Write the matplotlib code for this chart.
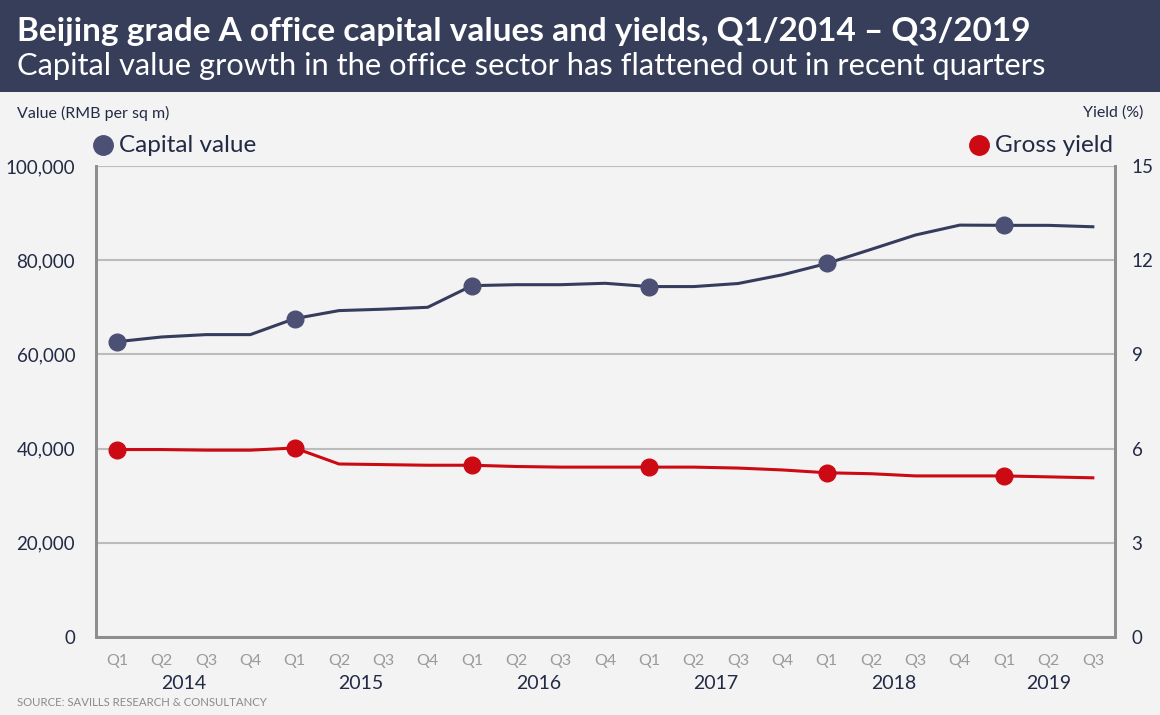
import numpy as np
import matplotlib.pyplot as plt
from matplotlib.patches import Rectangle

plt.rcParams['font.family'] = ['Lato', 'DejaVu Sans']

quarters = ['Q1', 'Q2', 'Q3', 'Q4'] * 5 + ['Q1', 'Q2', 'Q3']
years = ['2014', '2015', '2016', '2017', '2018', '2019']

capital_value = [62700, 63700, 64200, 64200, 67600, 69300, 69600, 70000,
                 74600, 74800, 74800, 75100, 74400, 74400, 75050, 76900,
                 79300, 82300, 85350, 87450, 87400, 87400, 87100]
gross_yield = [5.97, 5.97, 5.95, 5.95, 6.02, 5.51, 5.49, 5.47,
               5.47, 5.43, 5.41, 5.41, 5.41, 5.41, 5.38, 5.32,
               5.23, 5.20, 5.13, 5.13, 5.13, 5.10, 5.07]

navy = '#363c5c'
navy_dot = '#4c5074'
red = '#cc0a14'
text_col = '#232a45'
grey_tick = '#9a9a9a'
bg = '#f3f3f3'

fig = plt.figure(figsize=(11.6, 7.15), dpi=100, facecolor=bg)

# header band
fig.patches.append(Rectangle((0, 1 - 92/715), 1, 92/715, transform=fig.transFigure,
                             facecolor='#363e5a', edgecolor='none', zorder=0))
fig.text(17/1160, 1 - 32/715, 'Beijing grade A office capital values and yields, Q1/2014 \u2013 Q3/2019',
         color='white', fontsize=24, fontweight='bold', va='center', ha='left')
fig.text(17/1160, 1 - 66/715, 'Capital value growth in the office sector has flattened out in recent quarters',
         color='white', fontsize=22.2, fontweight='normal', va='center', ha='left')

ax = fig.add_axes([96/1160, 78/715, (1115-96)/1160, (637-166)/715])
ax.set_facecolor(bg)
x = np.arange(len(quarters))

ax.plot(x, capital_value, color=navy, lw=2.2, marker='o', markevery=4,
        ms=12, mfc=navy_dot, mec=navy_dot, zorder=3)
ax.set_ylim(0, 100000)
ax.set_yticks(np.arange(0, 100001, 20000))
ax.set_yticklabels([f'{v:,}' for v in range(0, 100001, 20000)])
ax.set_xlim(-0.48, len(quarters) - 0.5)
ax.grid(axis='y', color='#bcbcbc', lw=1.5, zorder=0)
ax.set_axisbelow(True)

ax2 = ax.twinx()
ax2.plot(x, gross_yield, color=red, lw=2.2, marker='o', markevery=4,
         ms=12, mfc=red, mec=red, zorder=3)
ax2.set_ylim(0, 15)
ax2.set_yticks([0, 3, 6, 9, 12, 15])

for a in (ax, ax2):
    a.spines['top'].set_visible(False)
    for s in ('left', 'right', 'bottom'):
        a.spines[s].set_color('#8e8e8e')
        a.spines[s].set_linewidth(2)
    a.tick_params(axis='y', length=0, labelsize=13.5, labelcolor=text_col)
ax.tick_params(axis='y', pad=15)
ax2.tick_params(axis='y', pad=12)

ax.set_xticks(x)
ax.set_xticklabels(quarters, color=grey_tick, fontsize=11.5)
ax.tick_params(axis='x', length=0, pad=12)

# year labels
year_pos = [1.5, 5.5, 9.5, 13.5, 17.5, 21]
for yr, px in zip(years, year_pos):
    ax.text(px, -0.098, yr, transform=ax.get_xaxis_transform(), ha='center', va='center',
            fontsize=14, color=text_col)

# axis titles and legend
fig.text(17/1160, 1 - 113/715, 'Value (RMB per sq m)', fontsize=11.5, color=text_col, va='center')
fig.text(1143/1160, 1 - 113/715, 'Yield (%)', fontsize=11.5, color=text_col, va='center', ha='right')
fig.lines.append(plt.Line2D([103/1160], [1 - 145/715], marker='o', ms=14, color=navy_dot,
                            transform=fig.transFigure))
fig.text(119/1160, 1 - 145/715, 'Capital value', fontsize=17.5, color=text_col, va='center')
fig.lines.append(plt.Line2D([979/1160], [1 - 145/715], marker='o', ms=14, color=red,
                            transform=fig.transFigure))
fig.text(1113/1160, 1 - 145/715, 'Gross yield', fontsize=17.5, color=text_col, va='center', ha='right')

fig.text(17/1160, 1 - 703/715, 'SOURCE: SAVILLS RESEARCH & CONSULTANCY', fontsize=8.2,
         color='#8a8a8a', va='center')

fig.savefig('out.png', dpi=100, facecolor=bg)
